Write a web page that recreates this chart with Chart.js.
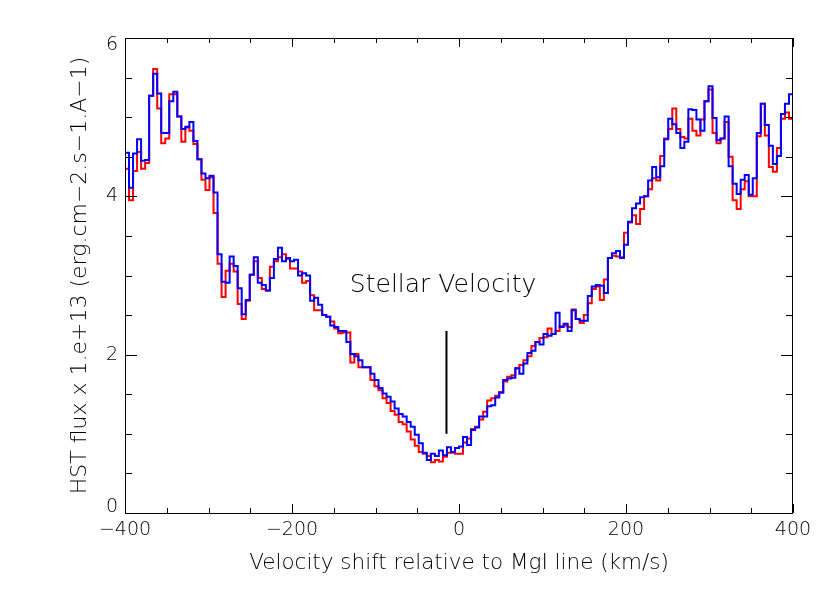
<!DOCTYPE html>
<html>
<head>
<meta charset="utf-8">
<script src="https://cdn.jsdelivr.net/npm/chart.js@4.4.1/dist/chart.umd.min.js"></script>
<style>
  html, body { margin: 0; padding: 0; background: #fff; }
</style>
</head>
<body>
<canvas id="myChart" width="830" height="593"></canvas>
<script>
'use strict';

// ************* DATA *******************

// velocity range covered by the spectrum (km/s), bins evenly spaced
let velMin = -400;
let velMax = 400;

// HST flux per bin (x 1e-13), blue spectrum
let blueFlux = [
  4.55, 4.11, 4.54, 4.72, 4.45, 4.46, 5.27, 5.55, 5.30, 4.80, 4.80, 5.20, 5.32, 5.01,
  4.85, 4.88, 4.94, 4.70, 4.47, 4.29, 4.23, 4.26, 4.05, 3.27, 2.92, 2.91, 3.24, 3.12,
  2.84, 2.51, 2.69, 3.01, 3.23, 2.91, 2.88, 2.81, 2.97, 3.21, 3.35, 3.18, 3.22, 3.18,
  3.20, 3.00, 3.03, 3.00, 2.68, 2.72, 2.63, 2.50, 2.48, 2.37, 2.35, 2.30, 2.30,
  2.16, 2.01, 1.98, 1.93, 1.84, 1.84, 1.76, 1.68, 1.58, 1.51, 1.47, 1.41, 1.32, 1.25,
  1.22, 1.15, 1.09, 0.99, 0.88, 0.76, 0.67, 0.75, 0.72, 0.79, 0.73, 0.83, 0.77, 0.82,
  0.84, 0.96, 0.86, 1.05, 1.08, 1.22, 1.22, 1.35, 1.36, 1.46, 1.52, 1.68, 1.70, 1.71,
  1.83, 1.76, 1.89, 2.02, 2.05, 2.16, 2.13, 2.26, 2.24, 2.26, 2.53, 2.35, 2.39, 2.30,
  2.56, 2.45, 2.43, 2.43, 2.74, 2.86, 2.88, 2.87, 2.78, 3.22, 3.28, 3.31, 3.22, 3.39,
  3.68, 3.85, 3.91, 3.99, 4.00, 4.20, 4.37, 4.24, 4.38, 4.72, 4.98, 4.91, 4.80, 4.61,
  4.69, 5.10, 5.09, 4.97, 4.83, 5.20, 5.39, 4.99, 4.71, 4.73, 5.01, 4.38, 4.16, 4.03,
  4.21, 4.27, 4.02, 4.23, 4.80, 5.17, 4.90, 4.64, 4.41, 4.51, 5.04, 5.17, 5.29
];

// HST flux per bin (x 1e-13), red spectrum
let redFlux = [
  4.35, 3.95, 4.32, 4.56, 4.35, 4.42, 5.27, 5.61, 5.11, 4.67, 4.73, 5.29, 5.29, 5.01,
  4.69, 4.87, 4.83, 4.66, 4.47, 4.21, 4.08, 4.24, 3.79, 3.15, 2.73, 3.06, 3.15, 3.05,
  2.64, 2.45, 2.68, 3.01, 3.18, 2.97, 2.83, 2.81, 3.11, 3.18, 3.23, 3.27, 3.21, 3.09,
  3.09, 3.05, 2.91, 2.93, 2.75, 2.56, 2.56, 2.50, 2.48, 2.42, 2.33, 2.27, 2.28,
  2.28, 1.90, 2.01, 1.84, 1.84, 1.84, 1.68, 1.60, 1.55, 1.45, 1.39, 1.29, 1.24, 1.15,
  1.12, 1.03, 0.93, 0.85, 0.77, 0.75, 0.72, 0.64, 0.67, 0.65, 0.71, 0.76, 0.76, 0.75,
  0.75, 0.89, 0.94, 1.06, 1.09, 1.18, 1.28, 1.42, 1.45, 1.48, 1.53, 1.66, 1.72, 1.74,
  1.83, 1.87, 1.93, 1.98, 2.11, 2.16, 2.21, 2.22, 2.33, 2.26, 2.30, 2.36, 2.37, 2.35,
  2.57, 2.45, 2.40, 2.50, 2.65, 2.83, 2.86, 2.69, 2.95, 3.22, 3.25, 3.24, 3.23, 3.54,
  3.67, 3.76, 3.65, 3.84, 4.00, 4.09, 4.23, 4.20, 4.51, 4.73, 4.85, 5.11, 4.85, 4.75,
  4.73, 4.98, 4.83, 4.77, 4.97, 5.20, 5.35, 4.80, 4.67, 4.73, 4.94, 4.50, 3.95, 3.84,
  4.09, 4.19, 4.00, 4.00, 4.76, 5.17, 4.77, 4.37, 4.31, 4.61, 4.98, 5.06, 4.98
];

// tick labels
let xTicks = [-400, -200, 0, 200, 400];
let yTicks = [0, 2, 4, 6];

// stellar velocity marker (km/s) and the flux span of its bar
let stellarVel = -15;
let markerFlux = [1.0, 2.3];
let markerLabel = 'Stellar Velocity';

// ************* BUILD THE STEP SERIES *******************

let binWidth = (velMax - velMin) / blueFlux.length;

// points at bin centres, drawn with 'middle' steps; ends pinned to the axis range
function toSteps(flux) {
  let pts = [{ x: velMin, y: flux[0] }];
  for (let i = 0; i < flux.length; i++) {
    pts.push({ x: velMin + (i + 0.5) * binWidth, y: flux[i] });
  }
  pts.push({ x: velMax, y: flux[flux.length - 1] });
  return pts;
}

// thin text, closer to the vector font of the original plot
let textFont = '"DejaVu Sans", sans-serif';
let textColor = '#000';

// ************* PLUGIN: IDL style box with inward ticks + labels *******************

const boxTicks = {
  id: 'boxTicks',
  afterDatasetsDraw(chart) {
    const { ctx, chartArea: a, scales: { x, y } } = chart;
    ctx.save();
    ctx.strokeStyle = '#000';
    ctx.lineWidth = 1;
    ctx.strokeRect(a.left + 0.5, a.top + 0.5, a.right - a.left - 1, a.bottom - a.top);
    ctx.beginPath();
    // x ticks every 50, long every 200
    for (let v = velMin; v <= velMax; v += 50) {
      let px = Math.round(x.getPixelForValue(v)) + 0.5;
      let len = v % 200 === 0 ? 9 : 5;
      ctx.moveTo(px, a.bottom); ctx.lineTo(px, a.bottom - len);
      ctx.moveTo(px, a.top); ctx.lineTo(px, a.top + len);
    }
    // y ticks every 0.5, long every 2
    for (let f = 0; f <= 6; f += 0.5) {
      let py = Math.round(y.getPixelForValue(f)) + 0.5;
      let len = f % 2 === 0 ? 12 : 7;
      ctx.moveTo(a.left, py); ctx.lineTo(a.left + len, py);
      ctx.moveTo(a.right, py); ctx.lineTo(a.right - len, py);
    }
    ctx.stroke();

    // y labels, end labels kept inside the axis span like IDL does
    ctx.fillStyle = textColor;
    ctx.font = '300 19px ' + textFont;
    ctx.textAlign = 'right';
    ctx.textBaseline = 'middle';
    for (let v of yTicks) {
      let py = y.getPixelForValue(v);
      py = Math.min(Math.max(py, a.top + 7), a.bottom - 6);
      ctx.fillText(String(v), a.left - 7, py);
    }

    // annotation text above the marker
    ctx.font = '300 25px ' + textFont;
    ctx.textAlign = 'center';
    ctx.fillText(markerLabel, x.getPixelForValue(stellarVel - 4), y.getPixelForValue(2.88));
    ctx.restore();
  }
};

// ************* CHART *******************

const ctx = document.getElementById('myChart').getContext('2d');

const chartObj = {
  type: 'line',
  data: {
    datasets: [
      { // blue on top (first dataset is drawn last)
        label: 'blue',
        data: toSteps(blueFlux),
        borderColor: '#0000ff',
        borderWidth: 2,
        stepped: 'middle',
        pointRadius: 0,
        fill: false
      },
      {
        label: 'red',
        data: toSteps(redFlux),
        borderColor: '#ff0000',
        borderWidth: 2,
        stepped: 'middle',
        pointRadius: 0,
        fill: false
      },
      {
        label: 'marker',
        data: [{ x: stellarVel, y: markerFlux[0] }, { x: stellarVel, y: markerFlux[1] }],
        borderColor: '#000',
        borderWidth: 2,
        pointRadius: 0,
        fill: false
      }
    ]
  },
  options: {
    responsive: false,
    animation: false,
    devicePixelRatio: 1,
    layout: { padding: { left: 0, right: 37, top: 38, bottom: 0 } },
    plugins: {
      legend: { display: false },
      tooltip: { enabled: false }
    },
    scales: {
      x: {
        type: 'linear',
        min: velMin,
        max: velMax,
        afterFit: (s) => { s.height = 80; },
        afterBuildTicks: (s) => { s.ticks = xTicks.map(v => ({ value: v })); },
        grid: { display: false, drawTicks: false },
        border: { display: false },
        ticks: {
          color: textColor,
          padding: 6,
          maxRotation: 0,
          font: { family: textFont, size: 19, weight: 300 },
          callback: (v) => String(v).replace('-', '\u2212')
        },
        title: {
          display: true,
          text: 'Velocity shift relative to MgI line (km/s)',
          color: textColor,
          font: { family: textFont, size: 21.5, weight: 300 },
          padding: { top: 0, bottom: 17 }
        }
      },
      y: {
        type: 'linear',
        min: 0,
        max: 6,
        afterFit: (s) => { s.width = 125; },
        afterBuildTicks: (s) => { s.ticks = yTicks.map(v => ({ value: v })); },
        grid: { display: false, drawTicks: false },
        border: { display: false },
        ticks: { display: false },
        title: {
          display: true,
          text: 'HST flux x 1.e+13 (erg.cm\u22122.s\u22121.A\u22121)',
          color: textColor,
          font: { family: textFont, size: 22, weight: 300 },
          padding: { top: 67, bottom: 0 }
        }
      }
    }
  },
  plugins: [boxTicks]
};

const myChart = new Chart(ctx, chartObj); // eslint-disable-line
</script>
</body>
</html>
